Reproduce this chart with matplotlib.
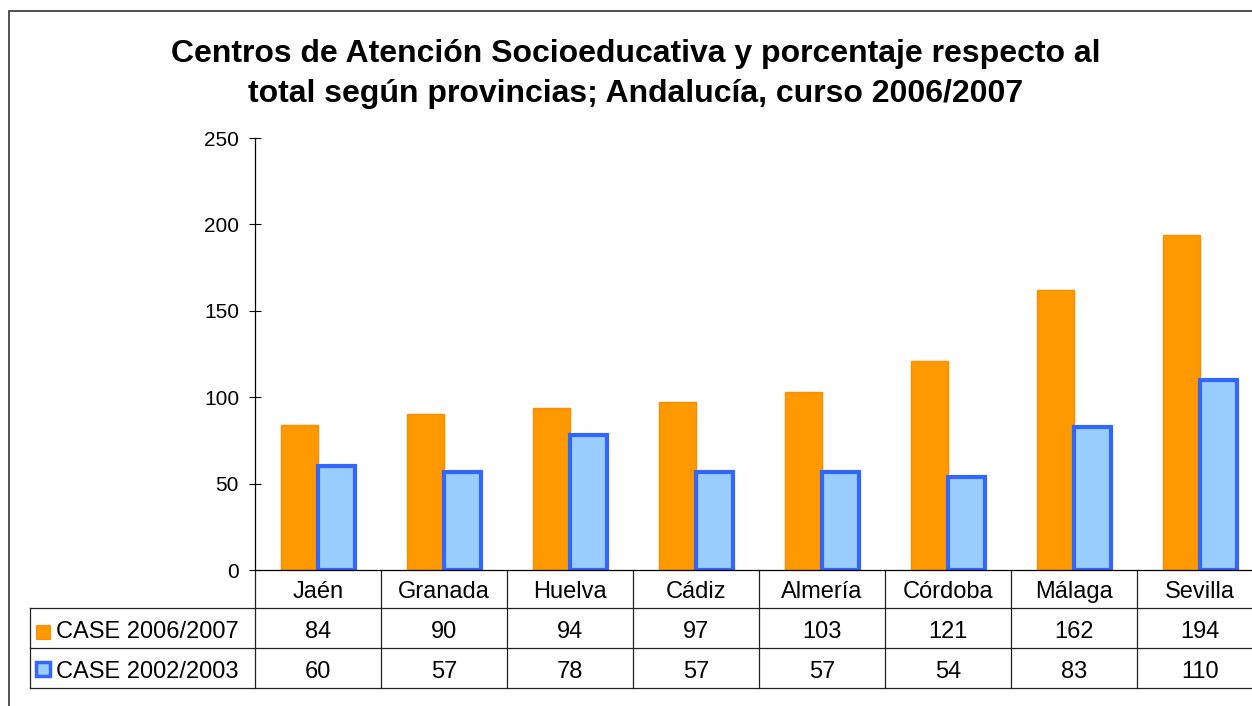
import matplotlib
matplotlib.use("Agg")
import matplotlib.pyplot as plt
from matplotlib.patches import Rectangle
from matplotlib.transforms import blended_transform_factory

plt.rcParams['font.family'] = ['Liberation Sans', 'DejaVu Sans']

provincias = ['Jaén', 'Granada', 'Huelva', 'Cádiz', 'Almería', 'Córdoba', 'Málaga', 'Sevilla']
case_2006 = [84, 90, 94, 97, 103, 121, 162, 194]
case_2002 = [60, 57, 78, 57, 57, 54, 83, 110]
series_names = ['CASE 2006/2007', 'CASE 2002/2003']
y_ticks = [0, 50, 100, 150, 200, 250]

orange = '#FF9900'
orange_edge = '#FF8C00'
blue_fill = '#99CCFF'
blue_edge = '#3366FF'

col_px = 126.0
fig = plt.figure(figsize=(12.52, 7.06), dpi=100)
ax = fig.add_axes([255 / 1252, 136 / 706, 8 * col_px / 1252, 432 / 706])

x = list(range(len(provincias)))
w = 0.29
ax.bar([i - 0.145 for i in x], case_2006, width=w, color=orange,
       edgecolor=orange_edge, linewidth=1, zorder=2)
ax.bar([i + 0.145 for i in x], case_2002, width=w, color=blue_fill,
       edgecolor=blue_edge, linewidth=3, zorder=2)

ax.set_xlim(-0.5, len(provincias) - 0.5)
ax.set_ylim(0, 250)
ax.set_yticks(y_ticks)
ax.tick_params(axis='y', labelsize=15, length=9, width=0.8, pad=7, direction='inout')
ax.set_xticks([])
for s in ['top', 'right']:
    ax.spines[s].set_visible(False)
ax.spines['left'].set_linewidth(0.9)
ax.spines['bottom'].set_linewidth(0.9)

fig.text(0.508, 1 - 74 / 706,
         'Centros de Atención Socioeducativa y porcentaje respecto al\n'
         'total según provincias; Andalucía, curso 2006/2007',
         ha='center', va='center', fontsize=23, fontweight='bold', linespacing=1.42)

# data table below the axis
trans = blended_transform_factory(ax.transData, ax.transAxes)
h = 432.0
r0, r1, r2 = -38 / h, -78 / h, -118 / h
left_x = -0.5 - (255 - 30) / col_px
line_kw = dict(color='#222222', linewidth=0.9, transform=trans, clip_on=False)

ax.plot([-0.5, -0.5], [0, r2], **line_kw)
for i in range(1, len(provincias) + 1):
    ax.plot([i - 0.5, i - 0.5], [0, r2], **line_kw)
ax.plot([left_x, left_x], [r0, r2], **line_kw)
for yy in [r0, r1, r2]:
    ax.plot([left_x, len(provincias) - 0.5], [yy, yy], **line_kw)

fs = 17
base = 10 / h  # baseline offset above each row's bottom line
tkw = dict(va='baseline', fontsize=fs, transform=trans, clip_on=False)
for i, p in enumerate(provincias):
    ax.text(i, r0 + base, p, ha='center', **tkw)
    ax.text(i, r1 + base, str(case_2006[i]), ha='center', **tkw)
    ax.text(i, r2 + base, str(case_2002[i]), ha='center', **tkw)

# row labels with legend keys
key_x = (36 - 255) / col_px - 0.5
text_x = (56 - 255) / col_px - 0.5
kw = 14 / col_px
kh = 14 / h
ax.add_patch(Rectangle((key_x, r1 + 9 / h), kw, kh, facecolor=orange,
                       edgecolor=orange_edge, linewidth=0.8, transform=trans, clip_on=False))
ax.add_patch(Rectangle((key_x, r2 + 12 / h), kw, kh, facecolor=blue_fill,
                       edgecolor=blue_edge, linewidth=2.5, transform=trans, clip_on=False))
ax.text(text_x, r1 + base, series_names[0], ha='left', **tkw)
ax.text(text_x, r2 + base, series_names[1], ha='left', **tkw)

# outer chart frame
fig.patches.append(Rectangle((9 / 1252, -0.1), 1.2, 1.1 - 11 / 706, fill=False,
                             edgecolor='#333333', linewidth=1.2,
                             transform=fig.transFigure, figure=fig))

fig.savefig('out.png', dpi=100)
